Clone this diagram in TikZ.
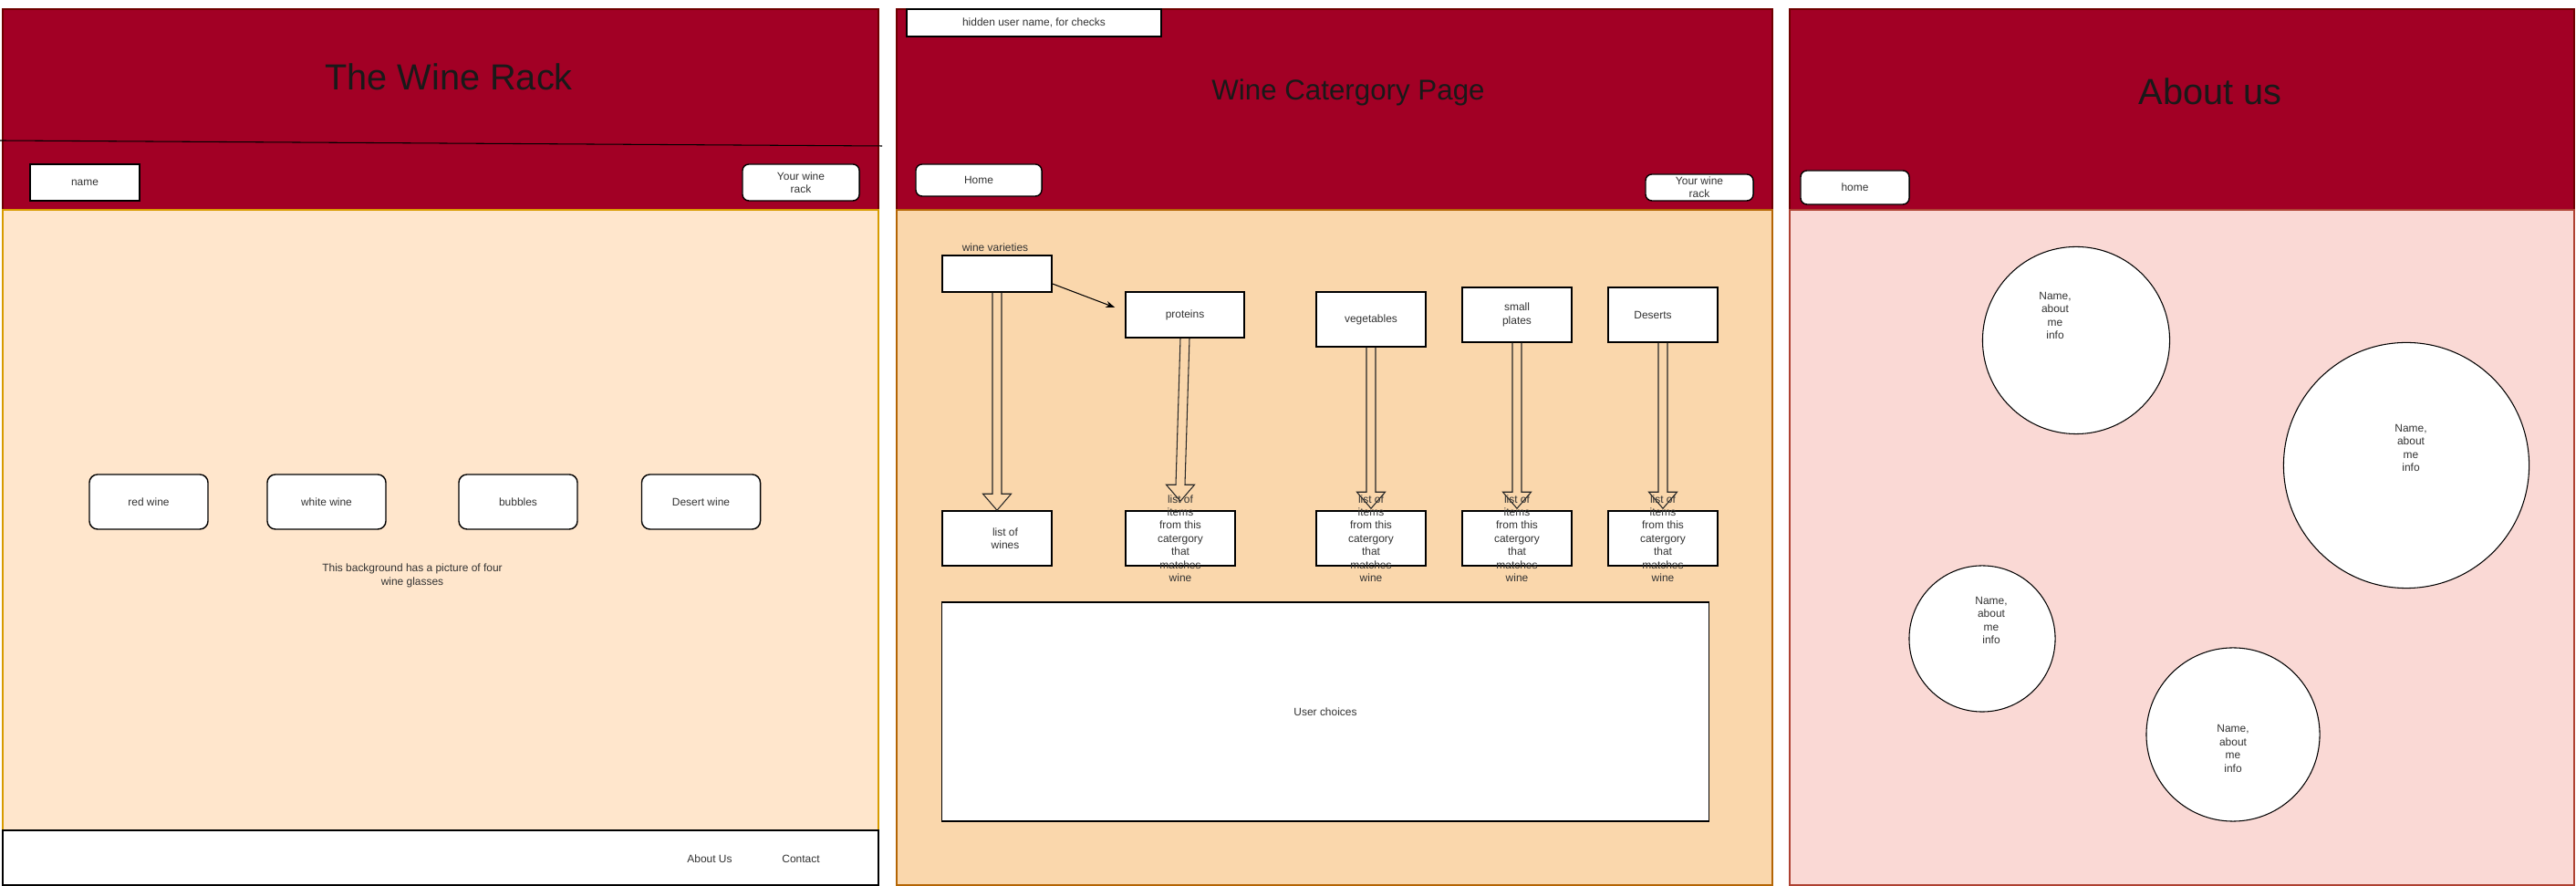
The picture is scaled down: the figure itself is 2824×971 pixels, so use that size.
\documentclass[tikz,border=0pt]{standalone}
\usepackage{fontspec}
\setmainfont{Liberation Sans}
\usetikzlibrary{calc, shapes, backgrounds, arrows.meta}

\definecolor{winered}{HTML}{A20025}
\definecolor{wineline}{HTML}{6F0000}
\definecolor{peach}{HTML}{FFE6CC}
\definecolor{peachline}{HTML}{D79B00}
\definecolor{apricot}{HTML}{FAD7AC}
\definecolor{apricotline}{HTML}{B46504}
\definecolor{blush}{HTML}{FAD9D5}
\definecolor{blushline}{HTML}{AE4132}
\definecolor{inkgray}{HTML}{333333}

\newcommand{\smalltext}{\fontsize{3.4pt}{4.1pt}\selectfont}
\newcommand{\bigtitle}{\fontsize{11.3pt}{13pt}\selectfont}

% hollow block arrow from #1 down to #2, tip #3 above the target
\newcommand{\blockarrow}[3]{%
	\draw[hollowarrow] ($(#1.south)+(-5,0)$) -- ($(#2.north)+(-5,-18-#3)$)
	-- ($(#2.north)+(-15.5,-18-#3)$) -- ($(#2.north)+(0,-#3)$)
	-- ($(#2.north)+(15.5,-18-#3)$) -- ($(#2.north)+(5,-18-#3)$)
	-- ($(#1.south)+(5,0)$);}

\begin{document}
\begin{tikzpicture}[
			x = 0.01cm, y = -0.01cm,
			every node/.style = {font = \smalltext, text = inkgray, align = center, inner sep = 0pt},
			header/.style = {fill = winered, draw = wineline, line width = 0.4pt},
			plainbox/.style = {draw = black, fill = white, rectangle, line width = 0.4pt},
			roundbox/.style = {plainbox, rounded corners = 0.07cm},
			winebtn/.style = {roundbox, minimum width = 1.3cm, minimum height = 0.6cm, rounded corners = 0.09cm},
			itembox/.style = {plainbox, minimum width = 1.2cm, minimum height = 0.6cm},
			person/.style = {draw = black, fill = white, circle, line width = 0.3pt},
			hollowarrow/.style = {draw = black!85, line width = 0.3pt, line join = miter},
			pagetitle/.style = {font = \bigtitle, text = black!90}]
	\useasboundingbox (0,0) rectangle (2824,971);
	\fill[white] (0,0) rectangle (2824,971);

	% Home page
	\draw[header] (3,10) rectangle (963,230);
	\draw[fill = peach, draw = peachline, line width = 0.4pt] (3,230) rectangle (963,910);
	\draw[plainbox] (3,910) rectangle (963,970);
	\draw[line width = 0.3pt] (0,154) -- (967,160);
	\node[pagetitle] (rack) at (492,84) {The Wine Rack};
	\node[plainbox, minimum width = 1.2cm, minimum height = 0.4cm] (name) at (93,200) {name};
	\node[roundbox, minimum width = 1.28cm, minimum height = 0.4cm] (myrack) at (878,200) {Your wine\\rack};
	\node[winebtn] (red) at (163,550) {red wine};
	\node[winebtn] (white) at (358,550) {white wine};
	\node[winebtn] (bubbles) at (568,550) {bubbles};
	\node[winebtn] (desertwine) at (768.5,550) {Desert wine};
	\node (bgnote) at (452,631) {This background has a picture of four\\wine glasses};
	\node (about) at (778,941) {About Us};
	\node (contact) at (878,941) {Contact};

	% Category page
	\draw[header] (983,10) rectangle (1943,230);
	\draw[fill = apricot, draw = apricotline, line width = 0.4pt] (983,230) rectangle (1943,970);
	\node[plainbox, minimum width = 2.79cm, minimum height = 0.3cm] (hidden) at (1133.5,25) {hidden user name, for checks};
	\node[pagetitle, font = \fontsize{8.9pt}{11pt}\selectfont] (cattitle) at (1478,101) {Wine Catergory Page};
	\node[roundbox, minimum width = 1.38cm, minimum height = 0.35cm] (home) at (1073,197.5) {Home};
	\node[roundbox, minimum width = 1.18cm, minimum height = 0.29cm] (catrack) at (1863,205.5) {Your wine\\rack};

	\node (wvlabel) at (1091,271) {wine varieties};
	\node[plainbox, minimum width = 1.2cm, minimum height = 0.4cm] (wv) at (1093,300) {};
	\node[plainbox, minimum width = 1.3cm, minimum height = 0.5cm] (prot) at (1299,345) {proteins};
	\node[itembox] (veg) at (1503,350) {vegetables};
	\node[itembox] (plates) at (1663,345) {small\\plates};
	\node[itembox] (deserts) at (1823,345) {Deserts\hspace*{0.22cm}};

	\node[itembox] (wines) at (1093,590) {\hspace*{0.18cm}list of\\\hspace*{0.18cm}wines};
	\foreach \nm/\xx in {li1/1294, li2/1503, li3/1663, li4/1823}
		\node[itembox] (\nm) at (\xx,590) {};

	\blockarrow{wv}{wines}{0}
	\blockarrow{prot}{li1}{10}
	\blockarrow{veg}{li2}{2}
	\blockarrow{plates}{li3}{2}
	\blockarrow{deserts}{li4}{2}
	\draw[line width = 0.3pt, -{Stealth[length = 0.1cm, width = 0.07cm]}] ($(wv.east)+(0,11)$) -- ($(prot.west)+(-11,-8)$);

	% item text runs over the arrow heads
	\foreach \nm in {li1, li2, li3, li4}
		\node at (\nm) {list of\\items\\from this\\catergory\\that\\matches\\wine};

	\node[plainbox, minimum width = 8.4cm, minimum height = 2.4cm] (choices) at (1453,780) {User choices};

	% About page
	\draw[header] (1962,10) rectangle (2822,230);
	\draw[fill = blush, draw = blushline, line width = 0.4pt] (1962,230) rectangle (2822,970);
	\node[pagetitle] (abouttitle) at (2423,100) {About us};
	\node[roundbox, minimum width = 1.19cm, minimum height = 0.37cm] (home2) at (2033.5,205.5) {home};

	\node[person, minimum size = 2.05cm,
		label = {[xshift = -0.23cm, yshift = 0.27cm]center:{Name,\\about\\me\\info}}] (p1) at (2276,373) {};
	\node[person, minimum size = 2.69cm,
		label = {[xshift = 0.05cm, yshift = 0.19cm]center:{Name,\\about\\me\\info}}] (p2) at (2638,510) {};
	\node[person, minimum size = 1.6cm,
		label = {[xshift = 0.10cm, yshift = 0.20cm]center:{Name,\\about\\me\\info}}] (p3) at (2173,700) {};
	\node[person, minimum size = 1.9cm,
		label = {[yshift = -0.155cm]center:{Name,\\about\\me\\info}}] (p4) at (2448,805) {};
\end{tikzpicture}
\end{document}
